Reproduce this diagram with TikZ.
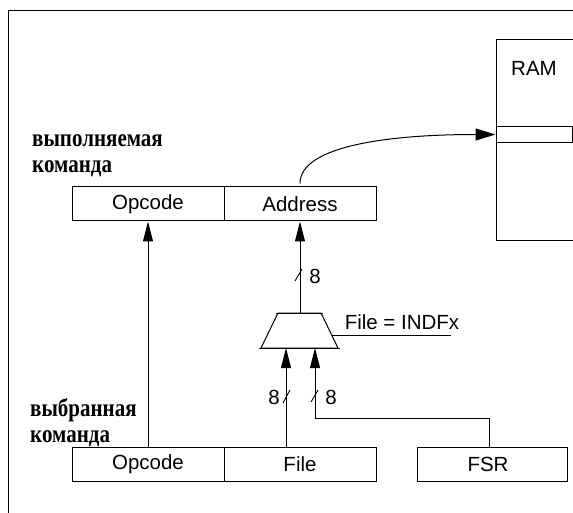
\documentclass[tikz,border=0pt]{standalone}
\usepackage{fontspec}
\usepackage{graphicx}
\usetikzlibrary{arrows.meta}
\newfontfamily\sansf{Liberation Sans}
\newfontfamily\serifb{Liberation Serif}
\newcommand{\twolines}[3]{\scalebox{1}[1.2]{\fontsize{21}{#3}\selectfont\begin{tabular}[t]{@{}l@{}}#1\\#2\end{tabular}}}
\begin{document}
\begin{tikzpicture}[x=1pt,y=-1pt,
  reg/.style={draw, line width=1pt, minimum height=34pt, inner sep=0pt, font=\sansf\fontsize{20.5}{24}\selectfont},
  lbl/.style={inner sep=0pt, font=\sansf\fontsize{20.5}{24}\selectfont},
  cyr/.style={inner sep=0pt, anchor=base west, font=\serifb\bfseries},
  arr/.style={line width=1pt, -{Triangle[length=20pt,width=10pt]}},
  arrc/.style={line width=1pt, -{Triangle[length=20pt,width=12pt]}},
  thin/.style={line width=0.9pt}]
\useasboundingbox (0,0) rectangle (573,513);
% frame
\draw[thin] (573,10) -- (8.5,10) -- (8.5,513);
% RAM
\draw[line width=1pt] (573,40) -- (496,40) -- (496,241) -- (573,241);
\node[draw, line width=1pt, minimum width=76pt, minimum height=15.5pt, inner sep=0pt] (ramrow) at (534,134.5) {};
\node[lbl] (ram) at (534,68.5) {RAM};
% labels
\node[cyr] (t1) at (32,146.7) {\twolines{выполняемая}{команда}{21.3pt}};
\node[cyr] (t2) at (30,416.7) {\twolines{выбранная}{команда}{21.7pt}};
% top register
\node[reg, minimum width=152pt] (op1) at (148,204) {Opcode};
\node[reg, minimum width=152pt] (addr) at (300,204) {Address};
% bottom register
\node[reg, minimum width=152pt] (op2) at (148,464) {Opcode};
\node[reg, minimum width=152pt] (file) at (300,464) {File};
\node[reg, minimum width=150pt] (fsr) at (492,464) {\hspace*{-8pt}FSR};
% mux
\coordinate (mtl) at (278,313);
\coordinate (mtr) at (321,313);
\coordinate (mbr) at (338,348);
\coordinate (mbl) at (261,348);
\draw[line width=1pt] (mtl) -- (mtr) -- (mbr) -- (mbl) -- cycle;
\draw[thin] (276,313) -- (323,313);
\draw[thin] (259,348) -- (340,348);
\coordinate (muxtop) at (300,313);
\coordinate (inL) at (286,348);
\coordinate (inR) at (315,348);
\coordinate (sel) at (331.5,335);
\coordinate (selend) at (451,335);
\draw[thin] (sel) -- (selend);
\node[lbl] (fx) at (402,322) {File = INDFx};
% connectors
\draw[arr] (op2.north) -- (op1.south);
\draw[arr] (muxtop) -- (addr.south);
\draw[arr] (file.north -| inL) -- (inL);
\draw[arr] ([xshift=-3pt]fsr.north) |- ([yshift=-70pt]inR) -- (inR);
\draw[arrc] ([yshift=3pt]addr.north) .. controls +(0,-38) and +(-105,0) .. (ramrow.west);
% bus width marks
\draw[thin] (295,281) -- (302,269);
\node[lbl] (w1) at (315,276) {8};
\draw[thin] (283,403) -- (290,390);
\node[lbl] (w2) at (274,397) {8};
\draw[thin] (311,402) -- (318,390);
\node[lbl] (w3) at (331,397) {8};
\end{tikzpicture}
\end{document}
